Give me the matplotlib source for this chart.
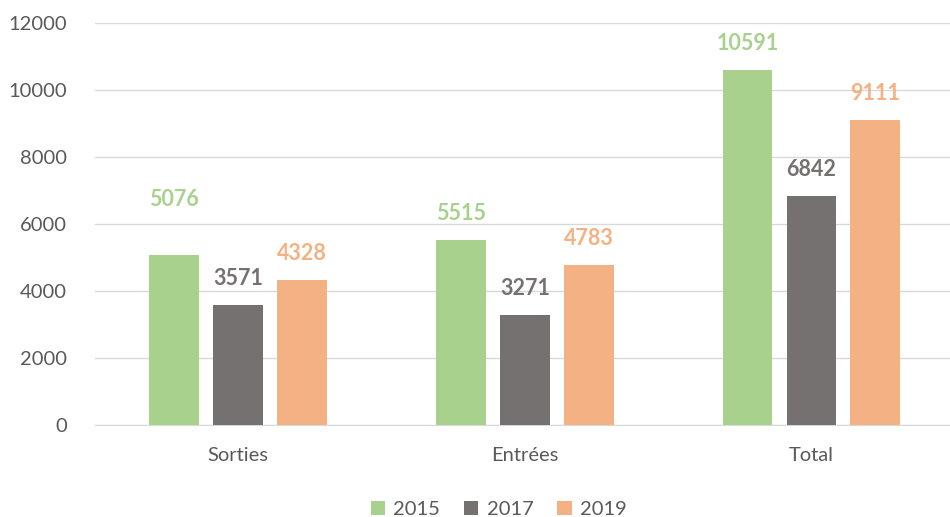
import numpy as np
import matplotlib.pyplot as plt

plt.rcParams['font.family'] = ['Lato', 'DejaVu Sans']

categories = ["Sorties", "Entrées", "Total"]
years = ["2015", "2017", "2019"]
v2015 = [5076, 5515, 10591]
v2017 = [3571, 3271, 6842]
v2019 = [4328, 4783, 9111]
colors = ["#A9D18E", "#767171", "#F4B183"]

fig = plt.figure(figsize=(9.5, 5.17), dpi=100)
ax = fig.add_axes([0.1, 0.178, 0.905, 0.778])

x = np.arange(len(categories))
width = 0.174
offset = 0.223
for i, (vals, yr, c) in enumerate(zip([v2015, v2017, v2019], years, colors)):
    pos = x + (i - 1) * offset
    ax.bar(pos, vals, width, color=c, label=yr, zorder=3)
    for j, (p, v) in enumerate(zip(pos, vals)):
        # the first label sits a bit higher in the original
        dy = 40 if (i == 0 and j == 0) else 19
        ax.annotate(str(v), (p, v), xytext=(0, dy), textcoords='offset points',
                    ha='center', va='center', color=c,
                    fontsize=15.5, fontweight='bold')

ax.set_xlim(-0.5, 2.5)
ax.set_ylim(0, 12000)
ax.set_yticks(range(0, 12001, 2000))
ax.grid(axis='y', color='#D9D9D9', linewidth=1, zorder=0)
ax.set_xticks(x)
ax.set_xticklabels(categories)
ax.tick_params(axis='both', length=0, labelsize=14.5, colors='#595959')
ax.tick_params(axis='x', pad=16)
ax.tick_params(axis='y', pad=20)
for s in ['top', 'right', 'left']:
    ax.spines[s].set_visible(False)
ax.spines['bottom'].set_color('#D9D9D9')

fig.legend(loc='lower center', ncol=3, frameon=False, fontsize=14.5,
           bbox_to_anchor=(0.525, -0.037), handlelength=0.7, handleheight=0.7,
           columnspacing=1.2, handletextpad=0.4, labelcolor='#595959')

fig.savefig("out.png", dpi=100)
